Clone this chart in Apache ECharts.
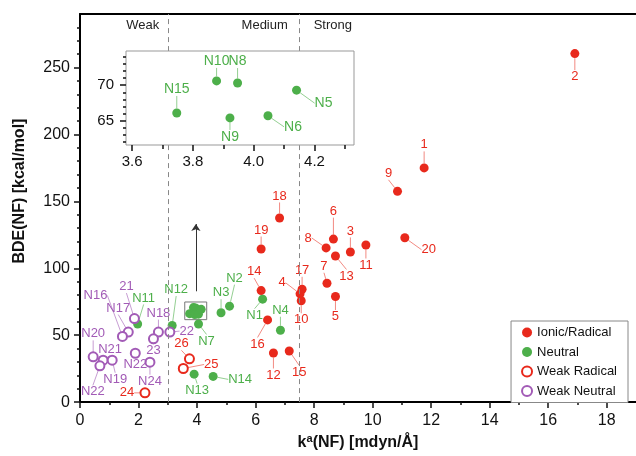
<!DOCTYPE html>
<html>
<head>
<meta charset="utf-8">
<script src="https://cdn.jsdelivr.net/npm/echarts@6/dist/echarts.min.js"></script>
<style>
  html, body { margin: 0; padding: 0; background: #fff; }
  #chart { width: 636px; height: 456px; }
</style>
</head>
<body>
<div id="chart"></div>
<script>
// ---- data ----
var ionicPts = [[16.91, 260.4], [11.76, 175.0], [10.85, 157.5], [11.10, 122.8], [6.82, 137.6], [6.19, 114.4],
    [8.66, 121.8], [8.41, 115.2], [9.24, 112.2], [9.77, 117.4], [8.73, 109.2], [8.44, 88.8], [8.73, 78.9],
    [7.59, 84.3], [7.52, 80.9], [7.56, 75.7], [6.61, 36.7], [7.15, 38.2], [6.41, 61.4], [6.19, 83.3]];
var ionicNames = ['2', '1', '9', '20', '18', '19', '6', '8', '3', '11', '13', '7', '5', '17', '4', '10', '12', '15', '16', '14'];

var neutralPts = [[1.97, 58.4], [3.15, 57.2], [4.05, 58.4], [4.82, 66.8], [5.11, 71.7], [6.24, 76.9],
    [6.85, 53.7], [3.90, 20.9], [4.55, 19.2]];
var neutralNames = ['N11', 'N12', 'N7', 'N3', 'N2', 'N1', 'N4', 'N13', 'N14'];

// the cluster shown enlarged in the inset
var insetPts = [[3.747, 66.1], [3.878, 70.6], [3.947, 70.3], [3.922, 65.4], [4.047, 65.7], [4.141, 69.3]];
var insetNames = ['N15', 'N10', 'N8', 'N9', 'N6', 'N5'];

var weakRadPts = [[2.22, 6.9], [3.53, 25.1], [3.74, 32.3]];
var weakRadNames = ['24', '25', '26'];

var weakNeuPts = [[1.86, 62.4], [1.65, 52.3], [1.45, 49.1], [2.68, 52.3], [3.07, 52.3], [2.51, 47.3],
    [1.89, 36.5], [2.39, 29.8], [0.45, 33.8], [0.79, 31.3], [1.10, 31.3], [0.68, 27.1]];
var weakNeuNames = ['21', 'N17', 'N16', 'N18', '22', '23', 'N22', 'N24', 'N20', 'N21', 'N19', 'N22'];

// ticks
var xMajor = [0, 2, 4, 6, 8, 10, 12, 14, 16, 18];
var xMinor = [1, 3, 5, 7, 9, 11, 13, 15, 17];
var yMajor = [0, 50, 100, 150, 200, 250];
var yMinor = [10, 20, 30, 40, 60, 70, 80, 90, 110, 120, 130, 140, 160, 170, 180, 190, 210, 220, 230, 240, 260, 270, 280];
var insetXMajor = [3.6, 3.8, 4.0, 4.2];
var insetXMinor = [3.7, 3.9, 4.1, 4.3];
var insetYMajor = [65, 70];
var insetYMinor = [62, 63, 64, 66, 67, 68, 69, 71, 72, 73, 74];
var insetXRange = [3.58, 4.33];
var insetYRange = [61.6, 74.8];

// bond strength regions
var regionBounds = [3, 7.5];
var regionNames = ['Weak', 'Medium', 'Strong'];

// ---- label placement (pixel offsets of each label from its point) ----
var ionicLabelPos = [[0, 23], [0, -23], [-9, -18], [24, 12], [0, -22], [0, -19], [0, -28], [-18, -10], [0, -21],
    [0, 20], [11, 20], [-3, -17], [0, 20], [0, -19], [-18, -11], [0, 19], [0, 22], [10, 21], [-10, 24], [-7, -19]];
var neutralLabelPos = [[6, -26], [4, -36], [8, 17], [0, -20], [5, -28], [-8, 16], [0, -20], [3, 16], [27, 3]];
var insetLabelPos = [[0, -24], [0, -20], [0, -22], [0, 19], [25, 11], [27, 13]];
var weakRadLabelPos = [[-18, 0], [28, -4], [-8, -15]];
var weakNeuLabelPos = [[-8, -32], [-10, -24], [-27, -41], [0, -19], [17, -1], [0, 12], [0, 11], [0, 19],
    [0, -23], [7, -11], [3, 19], [-7, 26]];

var FONT = '"Liberation Sans", Arial, Helvetica, sans-serif';
var RED = '#e8291c', GREEN = '#4daf4a', PURPLE = '#a25bb6';
var RED_L = 'rgba(232,41,28,0.55)', GREEN_L = 'rgba(77,175,74,0.6)', PURPLE_L = 'rgba(162,91,182,0.6)';

function withNames(pts, names) {
    return pts.map(function(p, i) { return { value: p, name: names[i] }; });
}

function labelled(pos, color, lineColor, size) {
    return {
        label: {
            show: true, position: 'inside', formatter: '{b}',
            color: color, fontSize: size, fontFamily: FONT
        },
        labelLine: { show: true, lineStyle: { color: lineColor, width: 1 } },
        labelLayout: function(p) {
            var o = pos[p.dataIndex];
            return { dx: o[0], dy: o[1] };
        }
    };
}

function tickAxis(kind, grid, pos, range, ticks, len, labels, extra) {
    var a = {
        type: 'value', gridIndex: grid, position: pos, min: range[0], max: range[1],
        splitLine: { show: false },
        axisLine: { show: false },
        axisTick: { show: true, inside: false, customValues: ticks, length: len,
            lineStyle: { color: '#111', width: 1.5 } },
        axisLabel: { show: false }
    };
    if (labels) {
        a.axisLabel = { show: true, customValues: ticks, color: '#111', fontFamily: FONT,
            fontSize: labels.size, margin: labels.margin, formatter: labels.formatter };
    }
    for (var k in extra) a[k] = extra[k];
    return a;
}

var chart = echarts.init(document.getElementById('chart'));

var mainLine = { show: true, lineStyle: { color: '#000', width: 2 } };

chart.setOption({
    animation: false,
    backgroundColor: '#fff',
    textStyle: { fontFamily: FONT },
    grid: [
        { left: 80, right: 0, top: 14, bottom: 51 },
        { left: 126, top: 51, width: 228, height: 94, show: true, z: 10,
          backgroundColor: '#fff', borderColor: '#999', borderWidth: 1 }
    ],
    xAxis: [
        tickAxis('x', 0, 'bottom', [0, 19], xMajor, 6, { size: 16, margin: 10 }, {
            axisLine: mainLine,
            name: '{b|k}{s|a}{b|(NF) [mdyn/Å]}',
            nameLocation: 'middle', nameGap: 29,
            nameTextStyle: { rich: {
                b: { fontSize: 16, fontWeight: 'bold', color: '#111', fontFamily: FONT },
                s: { fontSize: 11, fontWeight: 'bold', color: '#111', fontFamily: FONT, padding: [0, 0, 9, 0] }
            } }
        }),
        tickAxis('x', 0, 'bottom', [0, 19], xMinor, 3, null, {}),
        { type: 'value', gridIndex: 0, position: 'top', min: 0, max: 19, axisLine: mainLine,
          axisTick: { show: false }, axisLabel: { show: false }, splitLine: { show: false } },
        tickAxis('x', 1, 'bottom', insetXRange, insetXMajor, 6,
            { size: 15, margin: 9, formatter: function(v) { return v.toFixed(1); } }, { z: 11 }),
        tickAxis('x', 1, 'bottom', insetXRange, insetXMinor, 4, null, { z: 11 })
    ],
    yAxis: [
        tickAxis('y', 0, 'left', [0, 290], yMajor, 6, { size: 16, margin: 10 }, {
            axisLine: mainLine,
            name: 'BDE(NF) [kcal/mol]',
            nameLocation: 'middle', nameGap: 52,
            nameTextStyle: { fontSize: 16, fontWeight: 'bold', color: '#111', fontFamily: FONT,
                padding: [0, 0, 0, 34] }
        }),
        tickAxis('y', 0, 'left', [0, 290], yMinor, 3, null, {}),
        tickAxis('y', 1, 'left', insetYRange, insetYMajor, 6, { size: 15, margin: 12 }, { z: 11 }),
        tickAxis('y', 1, 'left', insetYRange, insetYMinor, 3, null, { z: 11 })
    ],
    legend: {
        data: ['Ionic/Radical', 'Neutral', 'Weak Radical', 'Weak Neutral'],
        orient: 'vertical', right: 8, top: 321,
        icon: 'circle', itemWidth: 10, itemHeight: 10, itemGap: 6.5, itemTextGap: 9,
        padding: [5, 11, 5, 10],
        borderColor: '#888', borderWidth: 1, backgroundColor: '#fff',
        selectedMode: false,
        textStyle: { fontSize: 13, color: '#111', fontFamily: FONT }
    },
    graphic: [
        { type: 'text', x: 142.7, y: 25, style: { text: regionNames[0], fontSize: 13, fontFamily: FONT, fill: '#222', align: 'center', verticalAlign: 'middle' } },
        { type: 'text', x: 264.7, y: 25, style: { text: regionNames[1], fontSize: 13, fontFamily: FONT, fill: '#222', align: 'center', verticalAlign: 'middle' } },
        { type: 'text', x: 332.8, y: 25, style: { text: regionNames[2], fontSize: 13, fontFamily: FONT, fill: '#222', align: 'center', verticalAlign: 'middle' } }
    ],
    series: [
        Object.assign({
            name: 'Ionic/Radical', type: 'scatter', xAxisIndex: 0, yAxisIndex: 0,
            symbolSize: 9, itemStyle: { color: RED, opacity: 1 },
            data: withNames(ionicPts, ionicNames),
            markLine: {
                silent: true, symbol: 'none', label: { show: false },
                lineStyle: { color: '#888', type: [5, 4], width: 1 },
                data: regionBounds.map(function(b) { return { xAxis: b }; })
            }
        }, labelled(ionicLabelPos, RED, RED_L, 13)),
        Object.assign({
            name: 'Neutral', type: 'scatter', xAxisIndex: 0, yAxisIndex: 0,
            symbolSize: 9, itemStyle: { color: GREEN, opacity: 1 },
            data: withNames(neutralPts, neutralNames)
        }, labelled(neutralLabelPos, GREEN, GREEN_L, 13)),
        {
            name: 'Neutral', type: 'scatter', xAxisIndex: 0, yAxisIndex: 0,
            symbolSize: 9, itemStyle: { color: GREEN, opacity: 1 },
            data: insetPts,
            markArea: {
                silent: true,
                itemStyle: { color: 'rgba(0,0,0,0)', borderColor: '#777', borderWidth: 1 },
                data: [[{ coord: [insetXRange[0], insetYRange[0]] }, { coord: [insetXRange[1], insetYRange[1]] }]]
            },
            markLine: {
                silent: true, symbol: ['none', 'arrow'], symbolSize: 7, label: { show: false },
                lineStyle: { color: '#333', type: 'solid', width: 1 },
                data: [[{ coord: [3.96, 82.8] }, { coord: [3.96, 133] }]]
            }
        },
        Object.assign({
            name: 'Weak Radical', type: 'scatter', xAxisIndex: 0, yAxisIndex: 0,
            symbolSize: 9, itemStyle: { color: '#fff', borderColor: RED, borderWidth: 2, opacity: 1 },
            data: withNames(weakRadPts, weakRadNames)
        }, labelled(weakRadLabelPos, RED, RED_L, 13)),
        Object.assign({
            name: 'Weak Neutral', type: 'scatter', xAxisIndex: 0, yAxisIndex: 0,
            symbolSize: 9, itemStyle: { color: '#fff', borderColor: PURPLE, borderWidth: 2, opacity: 1 },
            data: withNames(weakNeuPts, weakNeuNames)
        }, labelled(weakNeuLabelPos, PURPLE, PURPLE_L, 13)),
        Object.assign({
            name: 'Neutral', type: 'scatter', xAxisIndex: 3, yAxisIndex: 2, z: 12,
            symbolSize: 9, itemStyle: { color: GREEN, opacity: 1 },
            data: withNames(insetPts, insetNames)
        }, labelled(insetLabelPos, GREEN, GREEN_L, 14))
    ]
});

window.addEventListener('resize', function() { chart.resize(); });
</script>
</body>
</html>
